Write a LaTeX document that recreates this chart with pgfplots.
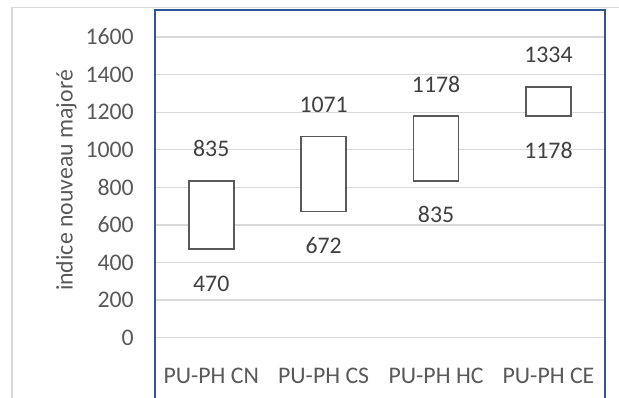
\documentclass[border=0pt]{standalone}
\usepackage{fontspec}
\setmainfont{Carlito}
\usepackage{pgfplots}
\pgfplotsset{compat=1.18}
\definecolor{gridc}{HTML}{D9D9D9}
\definecolor{txt}{HTML}{595959}
\definecolor{lab}{HTML}{404040}
\definecolor{framec}{HTML}{2F5597}
\pgfplotsset{common/.style={
  at={(155pt,0pt)}, anchor=south west, scale only axis,
  width=449.7pt, height=387.2pt,
  xmin=-0.5, xmax=3.5, ymin=-315.5, ymax=1744.7,
  clip=false}}
\begin{document}
\fontsize{23.8}{28}\selectfont
\begin{tikzpicture}[x=1pt,y=1pt]
\useasboundingbox (0,0) rectangle (619,397);
\draw[gridc, line width=1.3pt] (12,-5) -- (12,389.6) -- (630,389.6);
\begin{axis}[
  common,
  axis line style={draw=none},
  ybar stacked, bar width=45pt,
  ytick={0,200,...,1600},
  ymajorgrids, grid style={gridc, line width=1.3pt},
  major tick length=0pt,
  tick label style={font=\fontsize{23.8}{28}\selectfont, text=txt},
  yticklabel style={anchor=east, inner sep=0pt, xshift=-21pt},
  xtick={0,1,2,3}, xticklabels={PU-PH CN,PU-PH CS,PU-PH HC,PU-PH CE},
  xticklabel style={anchor=center, inner sep=0pt, yshift=21pt},
  /pgf/number format/assume math mode=true,
  /pgf/number format/1000 sep={},
]
\addplot[draw=none, fill=none] coordinates {(0,470) (1,672) (2,835) (3,1178)};
\addplot[draw=txt, fill=white, line width=1.8pt]
  coordinates {(0,365) (1,399) (2,343) (3,156)};
\end{axis}
\begin{axis}[common, hide axis]
\addplot[draw=none, mark=none, point meta=explicit symbolic, nodes near coords,
  nodes near coords style={font=\fontsize{23.8}{28}\selectfont, text=lab, anchor=center, inner sep=0pt, yshift=-34pt}]
  coordinates {(0,470) [470] (1,672) [672] (2,835) [835] (3,1178) [1178]};
\addplot[draw=none, mark=none, point meta=explicit symbolic, nodes near coords,
  nodes near coords style={font=\fontsize{23.8}{28}\selectfont, text=lab, anchor=center, inner sep=0pt, yshift=32pt}]
  coordinates {(0,835) [835] (1,1071) [1071] (2,1178) [1178] (3,1334) [1334]};
\end{axis}
\draw[framec, line width=2pt] (155,-5) -- (155,387.2) -- (604.7,387.2) -- (604.7,-5);
\node[rotate=90, anchor=base, text=txt, inner sep=0pt] at (72.7,216.5) {indice nouveau majoré};
\end{tikzpicture}
\end{document}
